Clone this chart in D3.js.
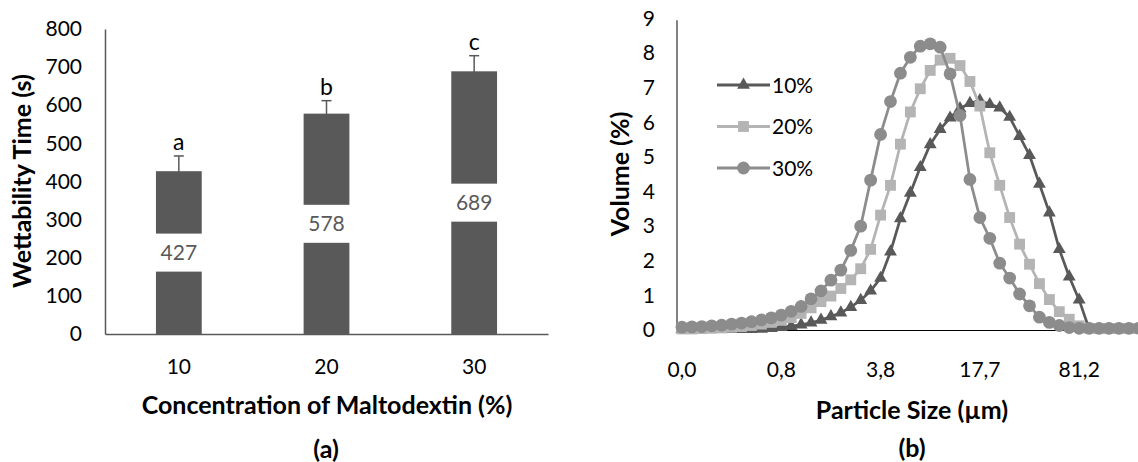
<!DOCTYPE html>
<html>
<head>
<meta charset="utf-8">
<script src="https://cdn.jsdelivr.net/npm/d3@7"></script>
<style>
  body { margin: 0; background: #fff; }
  text { font-family: Lato, "Open Sans", sans-serif; }
</style>
</head>
<body>
<div id="chart"></div>
<script>
// ---- (a) wettability data
const concentrations = ["10", "20", "30"];
const wettability = [427, 578, 689];
const wettabilityErr = [40, 34, 41];
const groupLetters = ["a", "b", "c"];
const wetTicks = [0, 100, 200, 300, 400, 500, 600, 700, 800];

// ---- (b) particle size distribution data (47 size classes)
const sizeTickIndex = [0, 10, 20, 30, 40];
const sizeTickLabels = ["0,0", "0,8", "3,8", "17,7", "81,2"];
const volTicks = [0, 1, 2, 3, 4, 5, 6, 7, 8, 9];
const seriesNames = ["10%", "20%", "30%"];
const vol10 = [0.02, 0.02, 0.02, 0.02, 0.02, 0.02, 0.02, 0.02, 0.03, 0.05,
  0.08, 0.11, 0.15, 0.21, 0.29, 0.39, 0.50, 0.66, 0.86, 1.13,
  1.50, 2.26, 3.22, 3.96, 4.70, 5.36, 5.80, 6.13, 6.40, 6.55,
  6.63, 6.52, 6.42, 6.15, 5.60, 5.05, 4.22, 3.39, 2.33, 1.54,
  0.87, 0.03, 0.02, 0.02, 0.02, 0.02, 0.02];
const vol20 = [0.03, 0.03, 0.04, 0.05, 0.06, 0.08, 0.10, 0.13, 0.17, 0.22,
  0.28, 0.36, 0.48, 0.64, 0.82, 0.98, 1.20, 1.45, 1.77, 2.33,
  3.32, 4.18, 5.37, 6.30, 6.97, 7.50, 7.80, 7.85, 7.64, 7.18,
  6.47, 5.12, 4.18, 3.25, 2.48, 1.90, 1.34, 0.88, 0.53, 0.31,
  0.12, 0.05, 0.04, 0.04, 0.04, 0.04, 0.04];
const vol30 = [0.08, 0.09, 0.10, 0.12, 0.14, 0.17, 0.20, 0.24, 0.29, 0.35,
  0.43, 0.54, 0.68, 0.90, 1.13, 1.44, 1.73, 2.30, 3.00, 4.33,
  5.65, 6.60, 7.42, 7.88, 8.20, 8.27, 8.17, 7.40, 6.20, 4.35,
  3.25, 2.65, 1.93, 1.50, 1.04, 0.70, 0.37, 0.22, 0.13, 0.07,
  0.05, 0.05, 0.05, 0.05, 0.05, 0.05, 0.05];

const barColor = "#595959";
const seriesColors = ["#595959", "#b4b4b4", "#8c8c8c"];
const seriesSymbols = [d3.symbolTriangle, d3.symbolSquare, d3.symbolCircle];
const symbolSizes = [72, 118, 128];

const width = 1138, height = 462;
const titleSize = 25;
const svg = d3.select("#chart").append("svg")
  .attr("width", width)
  .attr("height", height);

// ================= chart (a) =================
const xA = d3.scaleBand()
  .domain(concentrations)
  .range([105, 548])
  .paddingInner(0.69)
  .paddingOuter(0.345);
const yA = d3.scaleLinear().domain([0, 800]).range([334, 29]);

const gA = svg.append("g");

const axisLeftA = gA.append("g")
  .attr("transform", "translate(105,0)")
  .call(d3.axisLeft(yA).tickValues(wetTicks).tickSize(0).tickPadding(23));
const axisBottomA = gA.append("g")
  .attr("transform", "translate(0,334)")
  .call(d3.axisBottom(xA).tickSize(0).tickPadding(25));
[axisLeftA, axisBottomA].forEach(ax => {
  ax.select(".domain").attr("stroke", "#595959").attr("stroke-width", 1.5);
  ax.selectAll("text").attr("font-size", 21).attr("fill", "#000")
    .style("font-family", "Lato, 'Open Sans', sans-serif");
});

const barData = concentrations.map((c, i) => ({
  c: c, v: wettability[i], e: wettabilityErr[i], letter: groupLetters[i]
}));

gA.selectAll(".bar")
  .data(barData)
  .enter()
  .append("rect")
  .attr("class", "bar")
  .attr("x", d => xA(d.c))
  .attr("y", d => yA(d.v))
  .attr("width", xA.bandwidth())
  .attr("height", d => yA(0) - yA(d.v))
  .attr("fill", barColor);

// error bars
const errG = gA.selectAll(".err")
  .data(barData)
  .enter()
  .append("g")
  .attr("class", "err")
  .attr("stroke", "#595959")
  .attr("stroke-width", 1.5);
errG.append("line")
  .attr("x1", d => xA(d.c) + xA.bandwidth() / 2)
  .attr("x2", d => xA(d.c) + xA.bandwidth() / 2)
  .attr("y1", d => yA(d.v - d.e))
  .attr("y2", d => yA(d.v + d.e));
errG.append("line")
  .attr("x1", d => xA(d.c) + xA.bandwidth() / 2 - 5)
  .attr("x2", d => xA(d.c) + xA.bandwidth() / 2 + 5)
  .attr("y1", d => yA(d.v + d.e))
  .attr("y2", d => yA(d.v + d.e));
errG.append("line")
  .attr("x1", d => xA(d.c) + xA.bandwidth() / 2 - 5)
  .attr("x2", d => xA(d.c) + xA.bandwidth() / 2 + 5)
  .attr("y1", d => yA(d.v - d.e))
  .attr("y2", d => yA(d.v - d.e));

// value labels with white boxes
gA.selectAll(".valbox")
  .data(barData)
  .enter()
  .append("rect")
  .attr("class", "valbox")
  .attr("x", d => xA(d.c) - 4)
  .attr("y", d => yA(d.v / 2) - 19)
  .attr("width", xA.bandwidth() + 8)
  .attr("height", 38)
  .attr("fill", "#fff");
gA.selectAll(".val")
  .data(barData)
  .enter()
  .append("text")
  .attr("class", "val")
  .attr("x", d => xA(d.c) + xA.bandwidth() / 2)
  .attr("y", d => yA(d.v / 2))
  .attr("dy", "0.36em")
  .attr("text-anchor", "middle")
  .attr("font-size", 21)
  .attr("fill", "#595959")
  .text(d => d.v);

// significance letters
gA.selectAll(".letter")
  .data(barData)
  .enter()
  .append("text")
  .attr("class", "letter")
  .attr("x", d => xA(d.c) + xA.bandwidth() / 2)
  .attr("y", d => yA(d.v + d.e) - 6)
  .attr("text-anchor", "middle")
  .attr("font-size", 23)
  .attr("fill", "#000")
  .text(d => d.letter);

gA.append("text")
  .attr("transform", "translate(31,181) rotate(-90)")
  .attr("text-anchor", "middle")
  .attr("font-size", titleSize)
  .attr("font-weight", "bold")
  .text("Wettability Time (s)");
gA.append("text")
  .attr("x", 327).attr("y", 414)
  .attr("text-anchor", "middle")
  .attr("font-size", titleSize)
  .attr("font-weight", "bold")
  .text("Concentration of Maltodextin (%)");
gA.append("text")
  .attr("x", 326).attr("y", 458)
  .attr("text-anchor", "middle")
  .attr("font-size", titleSize)
  .attr("font-weight", "bold")
  .text("(a)");

// ================= chart (b) =================
const idx = d3.range(vol10.length);
const xB = d3.scaleBand().domain(idx).range([677, 677 + 9.93 * idx.length]);
const xPos = i => xB(i) + xB.bandwidth() / 2;
const yB = d3.scaleLinear().domain([0, 9]).range([330, 18.5]);

const gB = svg.append("g");

const axisLeftB = gB.append("g")
  .attr("transform", "translate(677,0)")
  .call(d3.axisLeft(yB).tickValues(volTicks).tickSize(0).tickPadding(22));
axisLeftB.select(".domain").attr("stroke", "#595959").attr("stroke-width", 1.5)
  .attr("d", `M0,${yB(0)}V${yB(8.95)}`);
const axisBottomB = gB.append("g")
  .attr("transform", "translate(0,330)")
  .call(d3.axisBottom(xB).tickValues(sizeTickIndex)
    .tickFormat((d, i) => sizeTickLabels[i]).tickSize(0).tickPadding(32));
axisBottomB.select(".domain").attr("stroke", "#000").attr("stroke-width", 1);
[axisLeftB, axisBottomB].forEach(ax => {
  ax.selectAll("text").attr("font-size", 21).attr("fill", "#000")
    .style("font-family", "Lato, 'Open Sans', sans-serif");
});

const seriesData = [vol10, vol20, vol30].map((vals, s) => ({
  name: seriesNames[s], color: seriesColors[s],
  symbol: seriesSymbols[s], size: symbolSizes[s],
  values: vals
}));

const line = d3.line()
  .x((d, i) => xPos(i))
  .y(d => yB(d));

const sG = gB.selectAll(".series")
  .data(seriesData)
  .enter()
  .append("g")
  .attr("class", "series");
sG.append("path")
  .attr("d", d => line(d.values))
  .attr("fill", "none")
  .attr("stroke", d => d.color)
  .attr("stroke-width", 2.75);
sG.each(function (s) {
  d3.select(this).selectAll(".mk")
    .data(s.values)
    .enter()
    .append("path")
    .attr("class", "mk")
    .attr("transform", (d, i) => `translate(${xPos(i)},${yB(d)})`)
    .attr("d", d3.symbol().type(s.symbol).size(s.size))
    .attr("fill", s.color);
});

// legend
const legend = gB.append("g");
const legendY = d3.scalePoint().domain(seriesNames).range([85, 168]);
const legItem = legend.selectAll(".leg")
  .data(seriesData)
  .enter()
  .append("g")
  .attr("transform", d => `translate(717,${legendY(d.name)})`);
legItem.append("line")
  .attr("x1", 0).attr("x2", 53)
  .attr("stroke", d => d.color)
  .attr("stroke-width", 3);
legItem.append("path")
  .attr("transform", "translate(26.5,0)")
  .attr("d", d => d3.symbol().type(d.symbol).size(d.size)())
  .attr("fill", d => d.color);
legItem.append("text")
  .attr("x", 55)
  .attr("dy", "0.36em")
  .attr("font-size", 21)
  .text(d => d.name);

gB.append("text")
  .attr("transform", "translate(629,174) rotate(-90)")
  .attr("text-anchor", "middle")
  .attr("font-size", titleSize)
  .attr("font-weight", "bold")
  .text("Volume (%)");
gB.append("text")
  .attr("x", 912).attr("y", 419)
  .attr("text-anchor", "middle")
  .attr("font-size", titleSize)
  .attr("font-weight", "bold")
  .text("Particle Size (µm)");
gB.append("text")
  .attr("x", 912).attr("y", 457)
  .attr("text-anchor", "middle")
  .attr("font-size", titleSize)
  .attr("font-weight", "bold")
  .text("(b)");
</script>
</body>
</html>
